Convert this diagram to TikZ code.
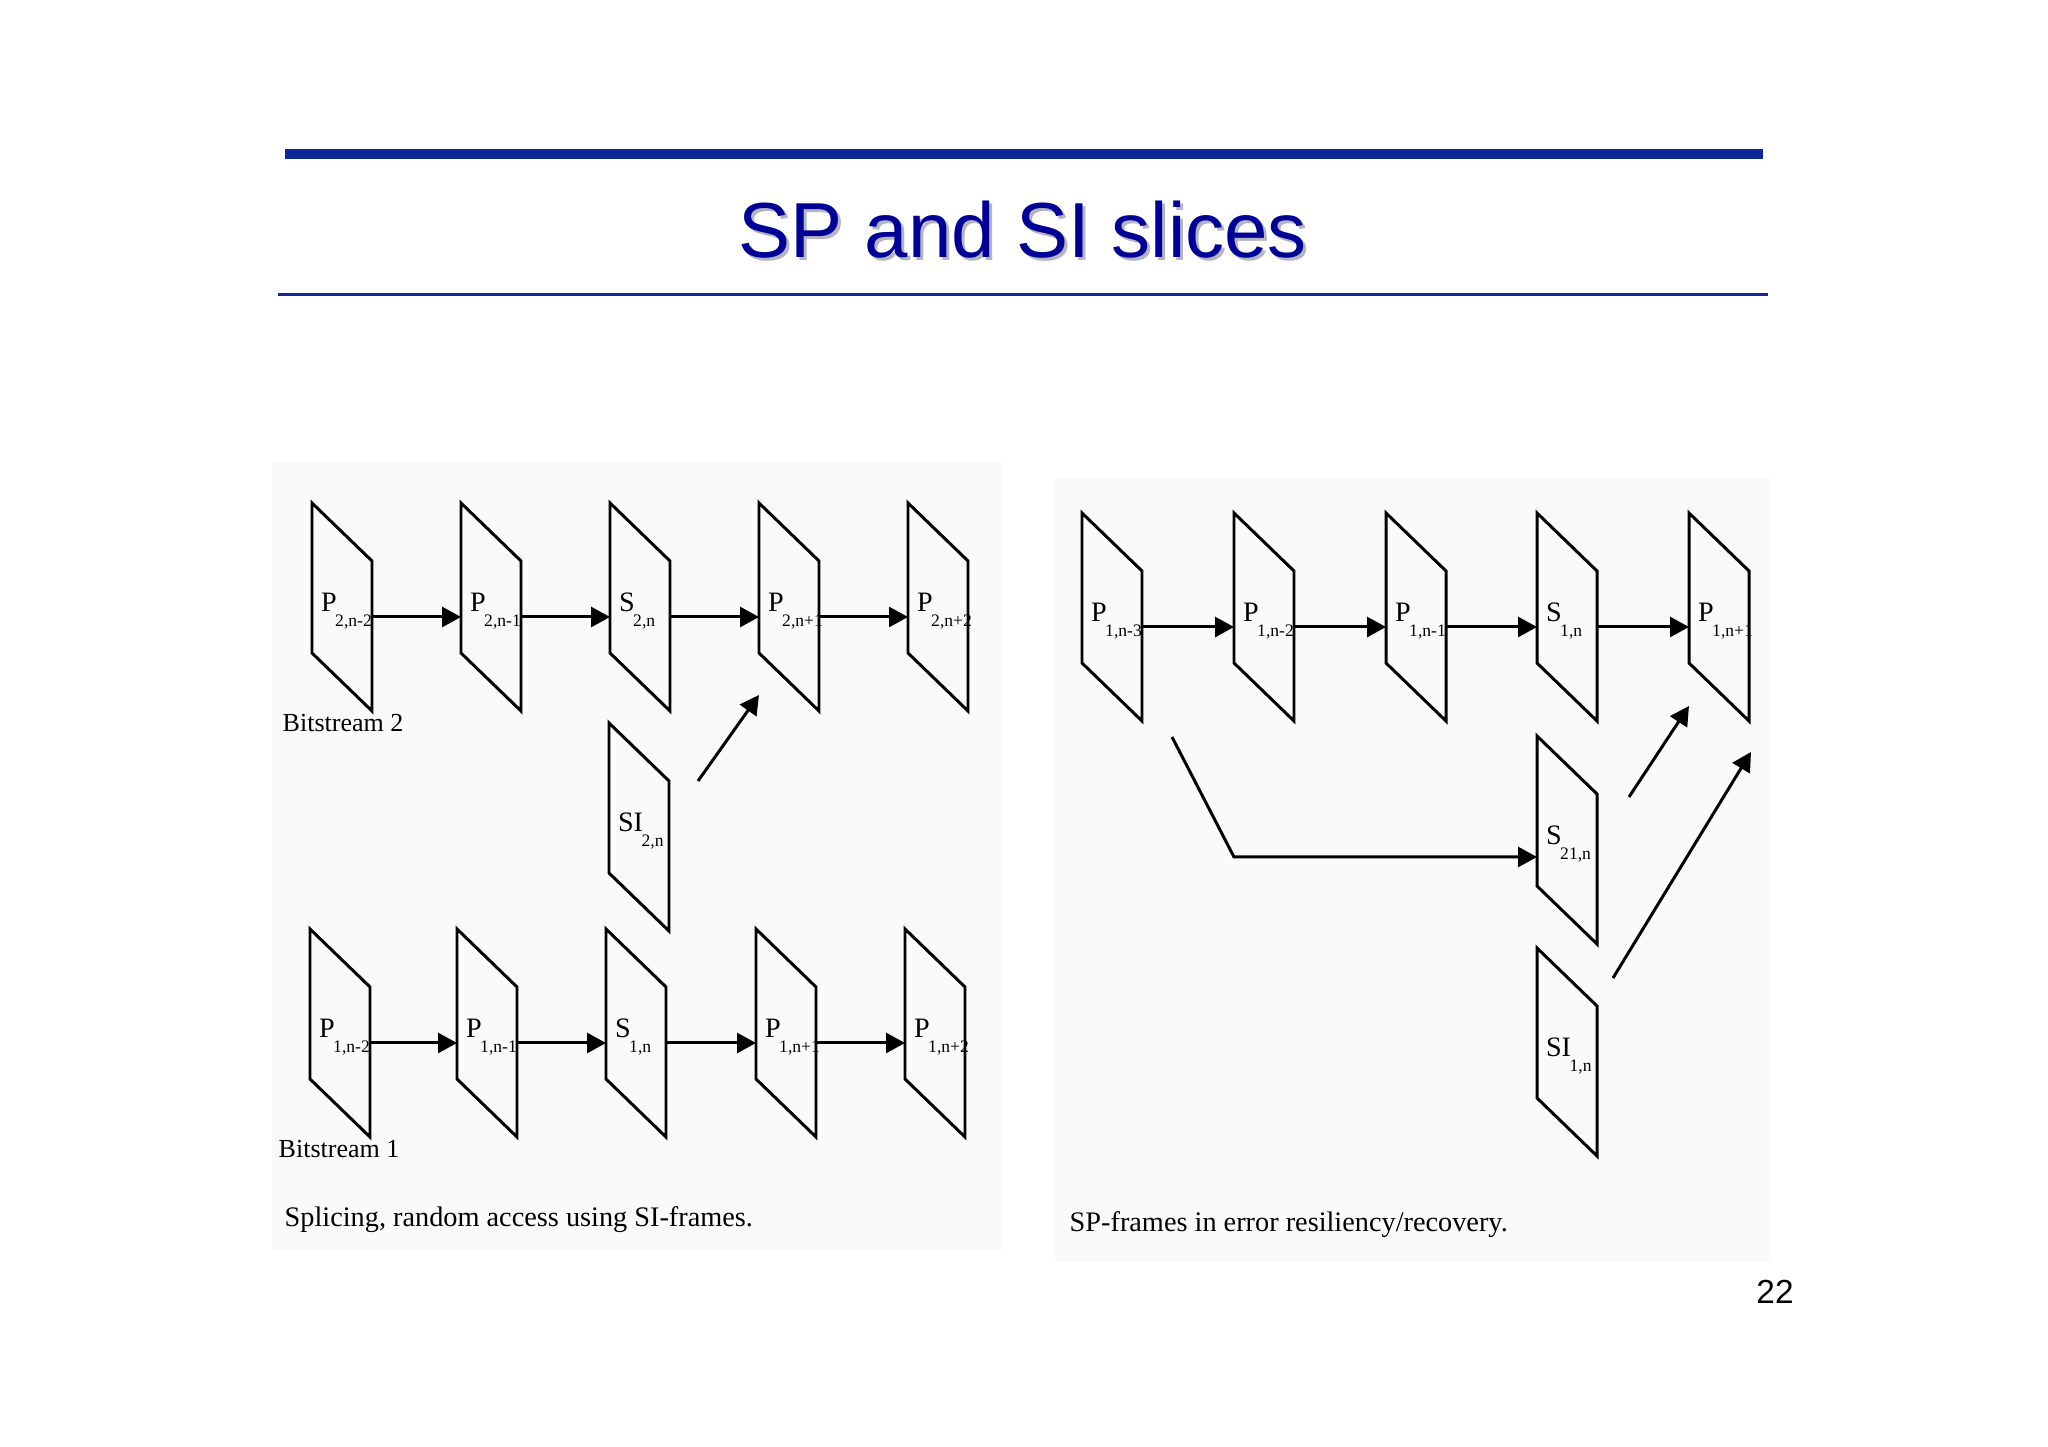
\documentclass[tikz,border=0pt]{standalone}
\usepackage{fontspec}
\setmainfont{Liberation Serif}
\newfontfamily\fontetitulo{Liberation Sans}
\usetikzlibrary{arrows.meta}

\definecolor{azultitulo}{RGB}{0,0,150}
\definecolor{azulfaixa}{RGB}{14,38,150}
\definecolor{sombra}{RGB}{180,180,195}

\tikzset{
	quadro/.style={minimum width=6mm, minimum height=20.8mm, inner sep=0pt, outer sep=0pt,
		anchor=north west, text width=4.2mm, align=left, font=\fontsize{8}{9}\selectfont},
	borda/.style={line width=0.85pt},
	seta/.style={->, line width=0.85pt},
	rotulo/.style={inner sep=0pt, anchor=base west, font=\fontsize{7.4}{9}\selectfont},
	legenda/.style={inner sep=0pt, anchor=base west, font=\fontsize{8.05}{10}\selectfont},
	painel/.style={fill=black!2, draw=none},
}

% quadro inclinado: nome, canto superior esquerdo, letra, indice
\newcommand{\quadro}[4]{%
	\node[quadro] (#1) at (#2)
	{\raisebox{-0.4mm}[\height][\depth]{#3\kern-0.4pt\raisebox{-4.2pt}{\fontsize{5}{6}\selectfont #4}}};
	\draw[borda] (#1.north west) -- ([yshift=-5.8mm]#1.north east)
	-- (#1.south east) -- ([yshift=5.8mm]#1.south west) -- cycle;
}

\begin{document}
\begin{tikzpicture}[>={Triangle[length=1.9mm,width=2mm]}]
	
	\useasboundingbox (0,0) rectangle (20.48,-14.47);
	
	% Titulo
	\fill[azulfaixa] (2.85,-1.49) rectangle (17.63,-1.59);
	\draw[azulfaixa, line width=0.85pt] (2.78,-2.95) -- (17.68,-2.95);
	\node[anchor=base, text=sombra, font=\fontetitulo\fontsize{22.2}{26}\selectfont] (titulosombra) at (10.26,-2.61) {SP and SI slices};
	\node[anchor=base, text=azultitulo, font=\fontetitulo\fontsize{22.2}{26}\selectfont] (titulo) at (10.23,-2.58) {SP and SI slices};
	
	% Paineis de fundo
	\fill[painel] (2.72,-4.62) rectangle (10.03,-12.50);
	\fill[painel] (10.55,-4.78) rectangle (17.71,-12.62);
	
	% Bitstream 2
	\quadro{p2nm2}{3.12,-5.03}{P}{2,n-2}
	\quadro{p2nm1}{4.61,-5.03}{P}{2,n-1}
	\quadro{s2n}{6.10,-5.03}{S}{2,n}
	\quadro{p2np1}{7.59,-5.03}{P}{2,n+1}
	\quadro{p2np2}{9.08,-5.03}{P}{2,n+2}
	\quadro{si2n}{6.09,-7.23}{SI}{2,n}
	
	\draw[seta] ([yshift=-1mm]p2nm2.east) -- ([yshift=-1mm]p2nm1.west);
	\draw[seta] ([yshift=-1mm]p2nm1.east) -- ([yshift=-1mm]s2n.west);
	\draw[seta] ([yshift=-1mm]s2n.east) -- ([yshift=-1mm]p2np1.west);
	\draw[seta] ([yshift=-1mm]p2np1.east) -- ([yshift=-1mm]p2np2.west);
	\draw[seta] ([shift={(0.29,-0.58)}]si2n.north east) -- ([yshift=1.6mm]p2np1.south west);
	
	\node[rotulo] (bits2) at ([shift={(-0.30,-0.21)}]p2nm2.south west) {Bitstream 2};
	
	% Bitstream 1
	\quadro{p1nm2}{3.10,-9.29}{P}{1,n-2}
	\quadro{p1nm1}{4.57,-9.29}{P}{1,n-1}
	\quadro{s1n}{6.06,-9.29}{S}{1,n}
	\quadro{p1np1}{7.56,-9.29}{P}{1,n+1}
	\quadro{p1np2}{9.05,-9.29}{P}{1,n+2}
	
	\draw[seta] ([yshift=-1mm]p1nm2.east) -- ([yshift=-1mm]p1nm1.west);
	\draw[seta] ([yshift=-1mm]p1nm1.east) -- ([yshift=-1mm]s1n.west);
	\draw[seta] ([yshift=-1mm]s1n.east) -- ([yshift=-1mm]p1np1.west);
	\draw[seta] ([yshift=-1mm]p1np1.east) -- ([yshift=-1mm]p1np2.west);
	
	\node[rotulo] (bits1) at ([shift={(-0.32,-0.21)}]p1nm2.south west) {Bitstream 1};
	\node[legenda] (legesq) at (2.84,-12.27) {Splicing, random access using SI-frames.};
	
	% Recuperacao de erros
	\quadro{dp1nm3}{10.82,-5.13}{P}{1,n-3}
	\quadro{dp1nm2}{12.34,-5.13}{P}{1,n-2}
	\quadro{dp1nm1}{13.86,-5.13}{P}{1,n-1}
	\quadro{ds1n}{15.37,-5.13}{S}{1,n}
	\quadro{dp1np1}{16.89,-5.13}{P}{1,n+1}
	\quadro{ds21n}{15.37,-7.36}{S}{21,n}
	\quadro{dsi1n}{15.37,-9.48}{SI}{1,n}
	
	\draw[seta] ([yshift=-1mm]dp1nm3.east) -- ([yshift=-1mm]dp1nm2.west);
	\draw[seta] ([yshift=-1mm]dp1nm2.east) -- ([yshift=-1mm]dp1nm1.west);
	\draw[seta] ([yshift=-1mm]dp1nm1.east) -- ([yshift=-1mm]ds1n.west);
	\draw[seta] ([yshift=-1mm]ds1n.east) -- ([yshift=-1mm]dp1np1.west);
	\draw[seta] ([shift={(0.3,-0.16)}]dp1nm3.south east) -- ([yshift=-1.7mm]ds21n.west -| dp1nm2.west) -- ([yshift=-1.7mm]ds21n.west);
	\draw[seta] ([shift={(0.32,-0.61)}]ds21n.north east) -- ([yshift=1.5mm]dp1np1.south west);
	\draw[seta] ([shift={(0.16,-0.3)}]dsi1n.north east) -- ([shift={(0.02,-0.31)}]dp1np1.south east);
	
	\node[legenda] (legdir) at (10.69,-12.32) {SP-frames in error resiliency/recovery.};
	
	% Numero da pagina
	\node[anchor=base, font=\fontetitulo\fontsize{9.5}{11}\selectfont] (pagina) at (17.75,-13.04) {22};
	
\end{tikzpicture}
\end{document}
